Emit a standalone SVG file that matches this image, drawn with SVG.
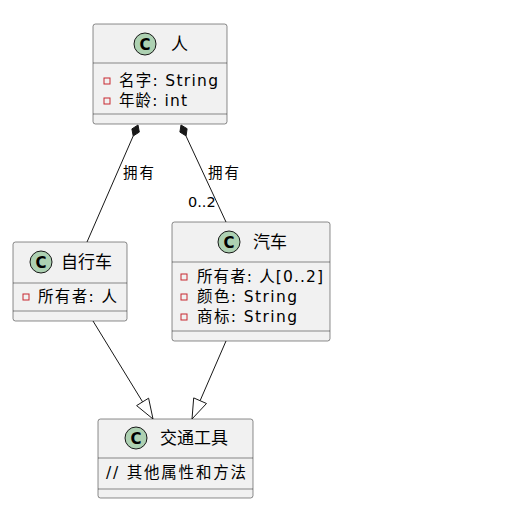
<svg xmlns="http://www.w3.org/2000/svg" width="511" height="516" viewBox="0 0 511 516">
<style>
.box{fill:#F1F1F1;stroke:#181818;stroke-width:0.5}
.sep{stroke:#181818;stroke-width:0.5}
.circ{fill:#ADD1B2;stroke:#181818;stroke-width:1}
.cl{font-family:"DejaVu Sans","Noto Sans CJK SC",sans-serif;font-size:15px;font-weight:bold;fill:#000}
.name{font-family:"DejaVu Sans","Noto Sans CJK SC",sans-serif;font-size:17px;fill:#000}
.attr{font-family:"DejaVu Sans","Noto Sans CJK SC",sans-serif;font-size:15.5px;fill:#000}
.lbl{font-family:"DejaVu Sans","Noto Sans CJK SC",sans-serif;font-size:14.5px;fill:#000}
.priv{fill:none;stroke:#C82930;stroke-width:1}
.ln{stroke:#181818;stroke-width:1;fill:none}
.dia{fill:#181818;stroke:#181818;stroke-width:1}
.tri{fill:#FFFFFF;stroke:#181818;stroke-width:1}
</style>
<rect width="511" height="516" fill="#FFFFFF"/>
<g id="connectors">
<line class="ln" x1="133.2" y1="136" x2="87" y2="242"/>
<polygon class="dia" points="138,125 139.3,132.1 133.2,136 131.9,128.9"/>
<text class="lbl" x="123" y="178" textLength="31" lengthAdjust="spacing">拥有</text>
<line class="ln" x1="186" y1="136" x2="226" y2="222"/>
<polygon class="dia" points="181,125 179.9,132.1 186.1,135.9 187.1,128.7"/>
<text class="lbl" x="208" y="178" textLength="31" lengthAdjust="spacing">拥有</text>
<text class="lbl" x="188" y="207">0..2</text>
<line class="ln" x1="93" y1="321" x2="142.6" y2="401.9"/>
<polygon class="tri" points="153,419 136.6,405.6 148.6,398.2"/>
<line class="ln" x1="226" y1="341" x2="200.1" y2="400.7"/>
<polygon class="tri" points="192,419 206.5,403.5 193.7,397.9"/>
</g>
<g id="node-ren">
<rect class="box" x="93" y="24" width="134" height="100" rx="2.5"/>
<line class="sep" x1="93" y1="63" x2="227" y2="63"/>
<line class="sep" x1="93" y1="114" x2="227" y2="114"/>
<circle class="circ" cx="145" cy="44" r="11"/>
<text class="cl" x="145" y="49.5" text-anchor="middle">C</text>
<text class="name" x="171" y="50">人</text>
<rect class="priv" x="104" y="78" width="6" height="6"/>
<text class="attr" x="119" y="86" textLength="99" lengthAdjust="spacing">名字: String</text>
<rect class="priv" x="104" y="98" width="6" height="6"/>
<text class="attr" x="119" y="106" textLength="68" lengthAdjust="spacing">年龄: int</text>
</g>
<g id="node-bike">
<rect class="box" x="13" y="242" width="114" height="79" rx="2.5"/>
<line class="sep" x1="13" y1="283" x2="127" y2="283"/>
<line class="sep" x1="13" y1="311" x2="127" y2="311"/>
<circle class="circ" cx="41" cy="262" r="11"/>
<text class="cl" x="41" y="267.5" text-anchor="middle">C</text>
<text class="name" x="61" y="268">自行车</text>
<rect class="priv" x="23" y="294" width="6" height="6"/>
<text class="attr" x="38" y="302" textLength="79" lengthAdjust="spacing">所有者: 人</text>
</g>
<g id="node-car">
<rect class="box" x="172" y="222" width="158" height="119" rx="2.5"/>
<line class="sep" x1="172" y1="262" x2="330" y2="262"/>
<line class="sep" x1="172" y1="331" x2="330" y2="331"/>
<circle class="circ" cx="229" cy="242" r="11"/>
<text class="cl" x="229" y="247.5" text-anchor="middle">C</text>
<text class="name" x="253" y="248">汽车</text>
<rect class="priv" x="181" y="274" width="6" height="6"/>
<text class="attr" x="197" y="282" textLength="126" lengthAdjust="spacing">所有者: 人[0..2]</text>
<rect class="priv" x="181" y="294" width="6" height="6"/>
<text class="attr" x="197" y="302" textLength="100" lengthAdjust="spacing">颜色: String</text>
<rect class="priv" x="181" y="314" width="6" height="6"/>
<text class="attr" x="197" y="322" textLength="100" lengthAdjust="spacing">商标: String</text>
</g>
<g id="node-vehicle">
<rect class="box" x="98" y="419" width="155" height="79" rx="2.5"/>
<line class="sep" x1="98" y1="458" x2="253" y2="458"/>
<line class="sep" x1="98" y1="489" x2="253" y2="489"/>
<circle class="circ" cx="136" cy="438" r="11"/>
<text class="cl" x="136" y="443.5" text-anchor="middle">C</text>
<text class="name" x="160" y="444">交通工具</text>
<text class="attr" x="106" y="478" textLength="140" lengthAdjust="spacing">// 其他属性和方法</text>
</g>
</svg>
